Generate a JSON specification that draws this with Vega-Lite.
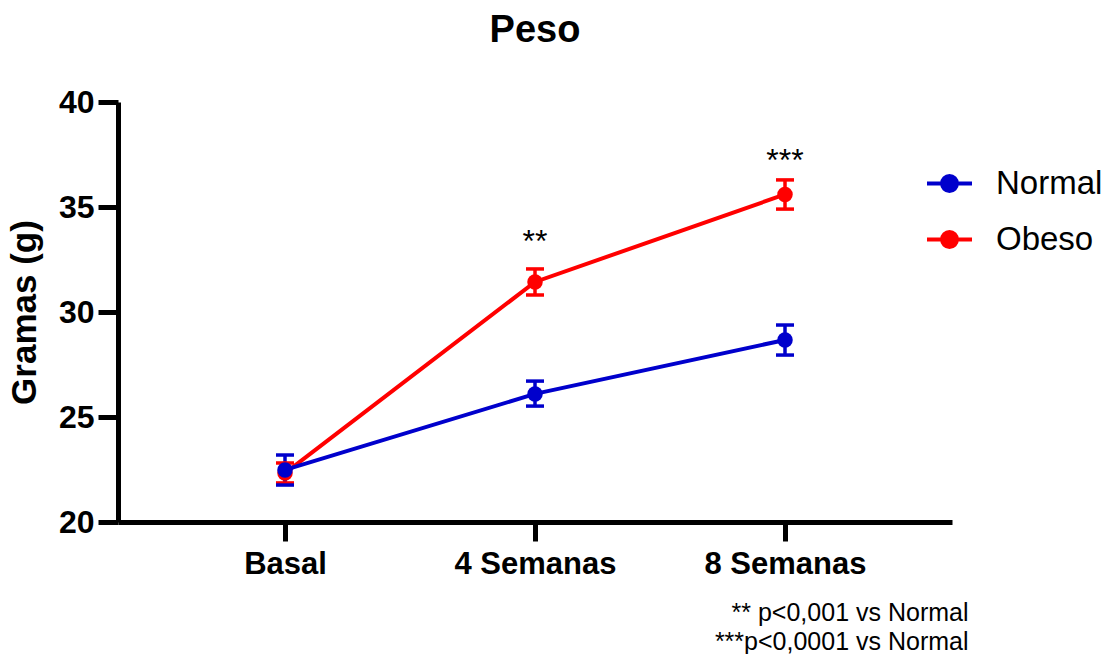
{
  "$schema": "https://vega.github.io/schema/vega-lite/v6.json",
  "width": 834,
  "height": 420,
  "autosize": {"type": "none"},
  "padding": {"left": 118, "top": 102, "right": 154, "bottom": 132},
  "background": "white",
  "title": {
    "text": "Peso",
    "font": "Liberation Sans",
    "fontSize": 38,
    "fontWeight": "bold",
    "color": "black",
    "anchor": "middle",
    "offset": 36
  },
  "config": {
    "view": {"stroke": null},
    "font": "Liberation Sans",
    "axis": {"grid": false, "domainColor": "black", "tickColor": "black", "labelColor": "black", "titleColor": "black"}
  },
  "data": {
    "values": [
      {"grupo": "Obeso", "tiempo": "Basal", "media": 22.33, "inf": 21.86, "sup": 22.81},
      {"grupo": "Obeso", "tiempo": "4 Semanas", "media": 31.43, "inf": 30.81, "sup": 32.05},
      {"grupo": "Obeso", "tiempo": "8 Semanas", "media": 35.6, "inf": 34.9, "sup": 36.29},
      {"grupo": "Normal", "tiempo": "Basal", "media": 22.48, "inf": 21.76, "sup": 23.19},
      {"grupo": "Normal", "tiempo": "4 Semanas", "media": 26.1, "inf": 25.52, "sup": 26.71},
      {"grupo": "Normal", "tiempo": "8 Semanas", "media": 28.67, "inf": 27.95, "sup": 29.38}
    ]
  },
  "encoding": {
    "x": {
      "field": "tiempo",
      "type": "ordinal",
      "sort": ["Basal", "4 Semanas", "8 Semanas"],
      "scale": {"type": "point", "padding": 0.668},
      "axis": {
        "title": ["** p<0,001 vs Normal", "***p<0,0001 vs Normal"],
        "titleFont": "Liberation Sans",
        "titleFontSize": 25,
        "titleFontWeight": "normal",
        "titleAlign": "right",
        "titleAnchor": "end",
        "titleBaseline": "top",
        "titleX": 850,
        "titleY": 78,
        "titleLineHeight": 29,
        "labelAngle": 0,
        "labelFont": "Liberation Sans",
        "labelFontSize": 31,
        "labelFontWeight": "bold",
        "labelPadding": 8,
        "domainWidth": 5,
        "tickWidth": 5,
        "tickSize": 19
      }
    },
    "color": {
      "field": "grupo",
      "type": "nominal",
      "scale": {"domain": ["Normal", "Obeso"], "range": ["#0000CC", "#FF0000"]},
      "legend": {
        "title": null,
        "orient": "none",
        "legendX": 807,
        "legendY": 57,
        "padding": 0,
        "symbolType": "M-1,0L1,0M0.33,0A0.33,0.33,0,1,1,-0.33,0A0.33,0.33,0,1,1,0.33,0Z",
        "symbolSize": 2025,
        "symbolStrokeWidth": 4,
        "symbolOpacity": 1,
        "labelFont": "Liberation Sans",
        "labelFontSize": 33,
        "labelColor": "black",
        "labelOffset": 22,
        "rowPadding": 14,
        "encode": {
          "symbols": {
            "update": {
              "fill": {"scale": "color", "field": "value"},
              "stroke": {"scale": "color", "field": "value"}
            }
          }
        }
      }
    }
  },
  "layer": [
    {
      "mark": {"type": "rule", "strokeWidth": 3.5},
      "encoding": {
        "y": {"field": "inf", "type": "quantitative"},
        "y2": {"field": "sup"}
      }
    },
    {
      "mark": {"type": "tick", "size": 18, "thickness": 3.5, "opacity": 1},
      "encoding": {
        "y": {"field": "inf", "type": "quantitative"}
      }
    },
    {
      "mark": {"type": "tick", "size": 18, "thickness": 3.5, "opacity": 1},
      "encoding": {
        "y": {"field": "sup", "type": "quantitative"}
      }
    },
    {
      "mark": {"type": "line", "strokeWidth": 4},
      "encoding": {
        "y": {"field": "media", "type": "quantitative"}
      }
    },
    {
      "mark": {"type": "point", "filled": true, "opacity": 1, "size": 240, "shape": "circle"},
      "encoding": {
        "y": {
          "field": "media",
          "type": "quantitative",
          "scale": {"domain": [20, 40], "nice": false, "zero": false},
          "axis": {
            "title": "Gramas (g)",
            "titleFont": "Liberation Sans",
            "titleFontSize": 35,
            "titleFontWeight": "bold",
            "titlePadding": 16,
            "values": [20, 25, 30, 35, 40],
            "labelFont": "Liberation Sans",
            "labelFontSize": 32,
            "labelFontWeight": "bold",
            "labelPadding": 4,
            "domainWidth": 5,
            "tickWidth": 5,
            "tickSize": 20
          }
        }
      }
    },
    {
      "data": {
        "values": [
          {"tiempo": "4 Semanas", "marca": "**", "pos": 32.85},
          {"tiempo": "8 Semanas", "marca": "***", "pos": 36.7}
        ]
      },
      "mark": {"type": "text", "font": "Liberation Sans", "fontSize": 32, "color": "black", "baseline": "alphabetic", "align": "center"},
      "encoding": {
        "y": {"field": "pos", "type": "quantitative"},
        "text": {"field": "marca"},
        "color": {"value": "black"}
      }
    }
  ]
}
